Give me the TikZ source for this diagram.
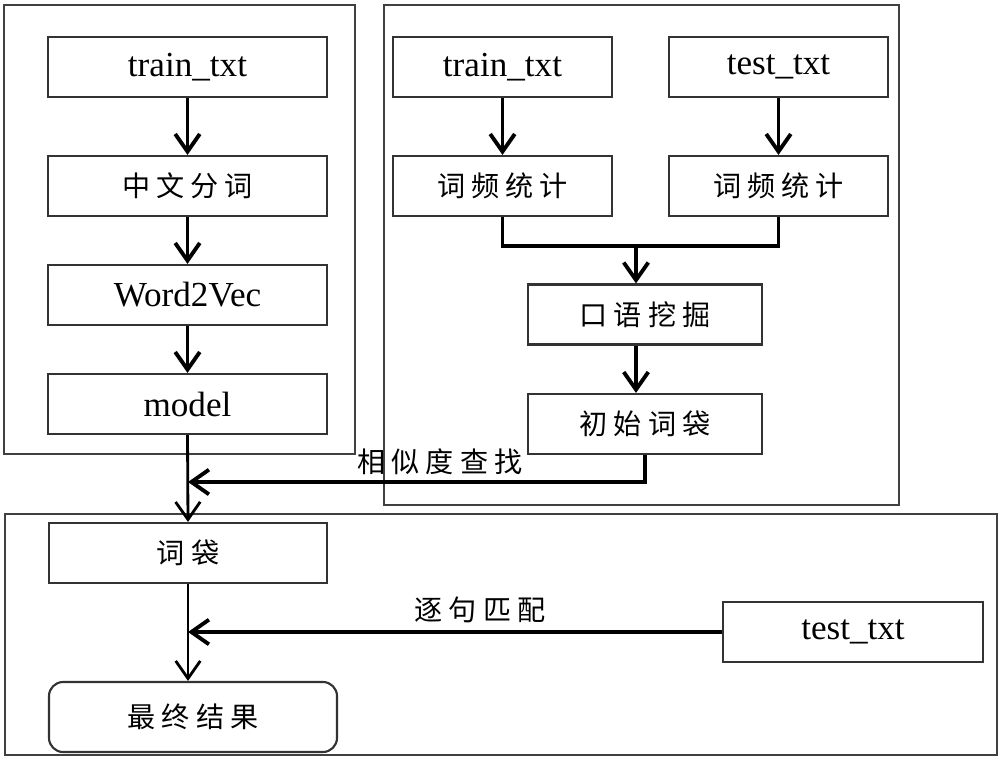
\documentclass[tikz,border=0pt]{standalone}
\usepackage{fontspec}
\usetikzlibrary{arrows.meta}
\setmainfont{Liberation Serif}
\newfontfamily\cjk{Noto Sans CJK SC}
\newcommand{\chsp}{\hspace{0.22em}}
\begin{document}
\begin{tikzpicture}[x=0.02cm,y=-0.02cm,
  box/.style={draw=black!80,line width=1.2pt,minimum height=60*0.02cm,inner sep=0pt,font=\fontsize{20}{22}\selectfont},
  cbox/.style={box,font=\cjk\fontsize{16}{18}\selectfont},
  frame/.style={draw=black!75,line width=1.2pt},
  conn/.style={line width=2.2pt,-{Straight Barb[length=10pt,width=14pt,line width=2.2pt]}},
  plain/.style={line width=2.2pt},
  thin/.style={line width=1.6pt,-{Straight Barb[length=10pt,width=14pt,line width=1.6pt]}},
  lbl/.style={font=\cjk\fontsize{16}{18}\selectfont,inner sep=1pt}]
\useasboundingbox (0,0) rectangle (1000,759);
% frames
\draw[frame] (4,5) rectangle (355,454);
\draw[frame] (384,5) rectangle (899,505);
\draw[frame] (5,514) rectangle (997,755);
% left column
\node[box,minimum width=279*0.02cm] (lt) at (187.5,67) {train\_txt};
\node[cbox,minimum width=279*0.02cm] (cw) at (187.5,186) {中\chsp 文\chsp 分\chsp 词};
\node[box,minimum width=279*0.02cm] (wv) at (187.5,295) {Word2Vec};
\node[box,minimum width=279*0.02cm] (md) at (187.5,404) {model};
% right column
\node[box,minimum width=219*0.02cm] (rt) at (502.5,67) {train\_txt};
\node[box,minimum width=219*0.02cm] (tt) at (778.5,67) {test\_txt};
\node[cbox,minimum width=219*0.02cm] (f1) at (502.5,186) {词\chsp 频\chsp 统\chsp 计};
\node[cbox,minimum width=219*0.02cm] (f2) at (778.5,186) {词\chsp 频\chsp 统\chsp 计};
\node[cbox,minimum width=234*0.02cm] (ky) at (645,314.5) {口\chsp 语\chsp 挖\chsp 掘};
\node[cbox,minimum width=234*0.02cm] (cs) at (645,424) {初\chsp 始\chsp 词\chsp 袋};
% bottom
\node[cbox,minimum width=278*0.02cm] (cd) at (188,553) {词\chsp 袋};
\node[box,minimum width=260*0.02cm] (bt) at (853,632) {test\_txt};
\node[cbox,minimum width=288*0.02cm,minimum height=70*0.02cm,rounded corners=8pt] (zj) at (193,717) {最\chsp 终\chsp 结\chsp 果};
% connectors
\draw[conn] (lt) -- (cw);
\draw[conn] (cw) -- (wv);
\draw[conn] (wv) -- (md);
\draw[conn] (rt) -- (f1);
\draw[conn] (tt) -- (f2);
\coordinate (mg) at (636,246);
\draw[plain] (f1.south) |- (mg) -| (f2.south);
\draw[conn] (mg) -- (mg |- ky.north);
\draw[conn] (ky.south -| mg) -- (cs.north -| mg);
\coordinate (sj) at (188,482);
\draw[thin] (md.south) -- (cd.north);
\draw[conn] (cs.south) |- (sj);
\node[lbl] (l1) at (440,462) {相\chsp 似\chsp 度\chsp 查\chsp 找};
\coordinate (zp) at (188,632);
\draw[thin] (cd.south) -- (zj.north -| cd.south);
\draw[conn] (bt.west) -- (zp);
\node[lbl] (l2) at (480,610) {逐\chsp 句\chsp 匹\chsp 配};
\end{tikzpicture}
\end{document}
